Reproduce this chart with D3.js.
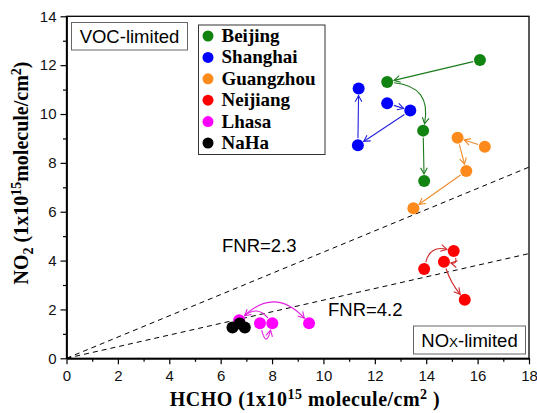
<!DOCTYPE html>
<html lang="en">
<head>
<meta charset="utf-8">
<title>FNR</title>
<script src="https://d3js.org/d3.v7.min.js"></script>
<style>
  body { margin: 0; background: #fff; }
</style>
</head>
<body>
<script>
// city names and colours
var cities = ["Beijing", "Shanghai", "Guangzhou", "Neijiang", "Lhasa", "NaHa"];
var colors = ["#118311", "#0000ff", "#ff8a1c", "#ff0000", "#ff00ff", "#000000"];
var arrowColors = ["#1a7a1a", "#2222dd", "#f08a28", "#d02a2a", "#e21ee2", "#000000"];

// [HCHO, NO2] in 1e15 molecule/cm2
var beijing   = [[16.09, 12.21], [12.48, 11.31], [13.88, 9.32], [13.92, 7.26]];
var shanghai  = [[11.37, 11.04], [12.48, 10.44], [13.38, 10.14], [11.34, 8.72]];
var guangzhou = [[15.22, 9.03], [16.28, 8.66], [15.56, 7.67], [13.50, 6.14]];
var neijiang  = [[13.92, 3.66], [15.07, 4.39], [14.69, 3.95], [15.50, 2.40]];
var lhasa     = [[7.53, 1.43], [8.01, 1.43], [6.72, 1.56], [9.44, 1.43]];
var naha      = [[6.46, 1.26], [6.74, 1.42], [6.94, 1.26]];
var series = [beijing, shanghai, guangzhou, neijiang, lhasa, naha];

// arrows: [series, from, to, bend]
var arrows = [
  [0, 0, 1, 0], [0, 1, 2, -0.55], [0, 2, 3, 0],
  [1, 1, 2, 0], [1, 2, 3, 0], [1, 3, 0, 0],
  [2, 1, 0, 0], [2, 0, 2, 0], [2, 2, 3, 0],
  [3, 0, 1, -0.5], [3, 1, 2, -0.8], [3, 2, 3, 0.1],
  [4, 0, 1, 2.0], [4, 1, 2, 0.5], [4, 2, 3, -0.5]
];

// FNR = HCHO / NO2 reference lines
var fnrValues = [2.3, 4.2];
var xTicks = [0, 2, 4, 6, 8, 10, 12, 14, 16, 18];
var yTicks = [0, 2, 4, 6, 8, 10, 12, 14];

var w = 537, h = 413;
var pLeft = 66.5, pRight = 529, pTop = 16.3, pBottom = 358.3;

var svg = d3.select("body").append("svg")
    .attr("width", w).attr("height", h);

var x = d3.scaleLinear().domain([0, 18]).range([pLeft, pRight]);
var y = d3.scaleLinear().domain([0, 14]).range([pBottom, pTop]);

var sans = "'Liberation Sans', Arial, sans-serif";
var serif = "'Liberation Serif', 'Times New Roman', serif";

// axes with minor ticks
var minorX = d3.range(1, 18, 2), minorY = d3.range(1, 14, 2);
svg.append("g").attr("transform", "translate(0," + pBottom + ")")
    .call(d3.axisBottom(x).tickValues(minorX).tickSize(3.5).tickSizeOuter(0).tickFormat(""));
svg.append("g").attr("transform", "translate(0," + pBottom + ")")
    .call(d3.axisBottom(x).tickValues(xTicks).tickSize(6).tickSizeOuter(0).tickPadding(6));
svg.append("g").attr("transform", "translate(" + pLeft + ",0)")
    .call(d3.axisLeft(y).tickValues(minorY).tickSize(3.5).tickSizeOuter(0).tickFormat(""));
svg.append("g").attr("transform", "translate(" + pLeft + ",0)")
    .call(d3.axisLeft(y).tickValues(yTicks).tickSize(6).tickSizeOuter(0).tickPadding(4));
svg.selectAll(".domain").attr("stroke-width", 1.3);
svg.selectAll(".tick line").attr("stroke-width", 1.2);
svg.selectAll(".tick text").attr("font-family", sans).attr("font-size", 15).attr("fill", "#111");

// frame
svg.append("rect")
    .attr("x", pLeft).attr("y", pTop)
    .attr("width", pRight - pLeft).attr("height", pBottom - pTop)
    .attr("fill", "none").attr("stroke", "#000").attr("stroke-width", 1.3);

// FNR lines
fnrValues.forEach(function(f) {
  svg.append("line")
      .attr("x1", x(0)).attr("y1", y(0))
      .attr("x2", x(18)).attr("y2", y(18 / f))
      .attr("stroke", "#000").attr("stroke-width", 1)
      .attr("stroke-dasharray", "5,4");
});

svg.append("text").attr("x", 222).attr("y", 252)
    .attr("font-family", sans).attr("font-size", 18.5).text("FNR=2.3");
svg.append("text").attr("x", 328).attr("y", 316)
    .attr("font-family", sans).attr("font-size", 18.5).text("FNR=4.2");

// regime boxes
svg.append("rect").attr("x", 71.5).attr("y", 22.5).attr("width", 116).attr("height", 27.5)
    .attr("fill", "#fff").attr("stroke", "#666").attr("stroke-width", 1);
svg.append("text").attr("x", 129.5).attr("y", 43).attr("text-anchor", "middle")
    .attr("font-family", sans).attr("font-size", 18.5).text("VOC-limited");

svg.append("rect").attr("x", 413.5).attr("y", 326).attr("width", 112).attr("height", 28)
    .attr("fill", "#fff").attr("stroke", "#666").attr("stroke-width", 1);
var nox = svg.append("text").attr("x", 469.5).attr("y", 347).attr("text-anchor", "middle")
    .attr("font-family", sans).attr("font-size", 18.5);
nox.append("tspan").text("NO");
nox.append("tspan").attr("font-size", 13.5).text("X");
nox.append("tspan").text("-limited");

// arrows
var r = 6;
arrows.forEach(function(a) {
  var pts = series[a[0]];
  var p0 = [x(pts[a[1]][0]), y(pts[a[1]][1])];
  var p1 = [x(pts[a[2]][0]), y(pts[a[2]][1])];
  var dx = p1[0] - p0[0], dy = p1[1] - p0[1];
  var c = [(p0[0] + p1[0]) / 2 - a[3] * dy, (p0[1] + p1[1]) / 2 + a[3] * dx];
  function toward(p, q, d) {
    var vx = q[0] - p[0], vy = q[1] - p[1], l = Math.sqrt(vx * vx + vy * vy);
    return [p[0] + vx / l * d, p[1] + vy / l * d];
  }
  var s = toward(p0, c, r + 1), e = toward(p1, c, r + 1);
  var col = arrowColors[a[0]];
  svg.append("path")
      .attr("d", "M" + s + "Q" + c + " " + e)
      .attr("fill", "none").attr("stroke", col).attr("stroke-width", 1.1);
  var ang = Math.atan2(e[1] - c[1], e[0] - c[0]), len = 7, spread = 0.5;
  var h1 = [e[0] - len * Math.cos(ang - spread), e[1] - len * Math.sin(ang - spread)];
  var h2 = [e[0] - len * Math.cos(ang + spread), e[1] - len * Math.sin(ang + spread)];
  svg.append("path")
      .attr("d", "M" + h1 + "L" + e + "L" + h2)
      .attr("fill", "none").attr("stroke", col).attr("stroke-width", 1.1);
});

// points
series.forEach(function(pts, i) {
  svg.append("g").selectAll("circle")
      .data(pts).enter().append("circle")
      .attr("cx", function(d) { return x(d[0]); })
      .attr("cy", function(d) { return y(d[1]); })
      .attr("r", r)
      .attr("fill", colors[i]);
});

// legend
var lg = svg.append("g");
lg.append("rect").attr("x", 198.5).attr("y", 25).attr("width", 126.5).attr("height", 129.5)
    .attr("fill", "#fff").attr("stroke", "#333").attr("stroke-width", 1);
cities.forEach(function(c, i) {
  var yy = 36 + i * 21.4;
  lg.append("circle").attr("cx", 208).attr("cy", yy).attr("r", 5.5).attr("fill", colors[i]);
  lg.append("text").attr("x", 221.5).attr("y", yy + 6)
      .attr("font-family", serif).attr("font-weight", "bold").attr("font-size", 19)
      .text(c);
});

// axis titles
var xt = svg.append("text").attr("x", 305).attr("y", 406).attr("text-anchor", "middle")
    .attr("font-family", serif).attr("font-weight", "bold").attr("font-size", 20)
    .attr("letter-spacing", 0.5);
xt.append("tspan").text("HCHO (1x10");
xt.append("tspan").attr("dy", -7).attr("font-size", 14).text("15");
xt.append("tspan").attr("dy", 7).text(" molecule/cm");
xt.append("tspan").attr("dy", -7).attr("font-size", 14).text("2");
xt.append("tspan").attr("dy", 7).text(" )");

var yt = svg.append("text").attr("transform", "translate(28,173) rotate(-90)")
    .attr("text-anchor", "middle")
    .attr("font-family", serif).attr("font-weight", "bold").attr("font-size", 20);
yt.append("tspan").text("NO");
yt.append("tspan").attr("dy", 5).attr("font-size", 14).text("2");
yt.append("tspan").attr("dy", -5).text(" (1x10");
yt.append("tspan").attr("dy", -7).attr("font-size", 14).text("15");
yt.append("tspan").attr("dy", 7).text("molecule/cm");
yt.append("tspan").attr("dy", -7).attr("font-size", 14).text("2");
yt.append("tspan").attr("dy", 7).text(")");
</script>
</body>
</html>
